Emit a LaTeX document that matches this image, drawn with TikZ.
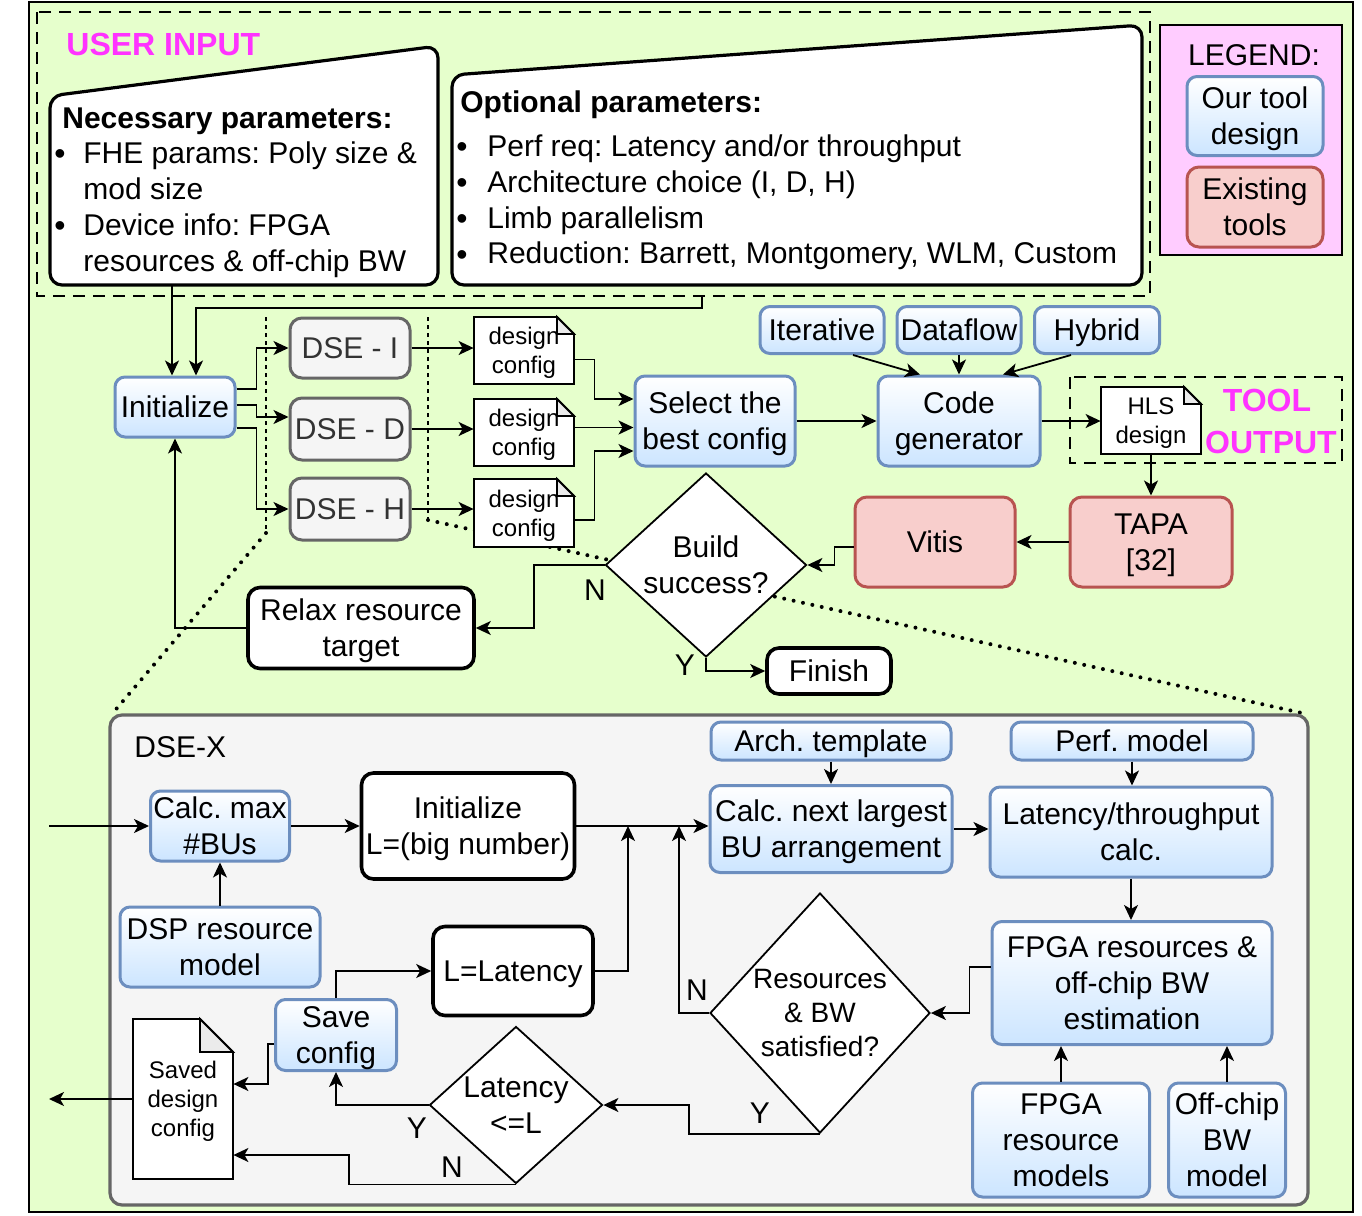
\documentclass[tikz,border=0pt]{standalone}
\usepackage{fontspec}
\setmainfont{Liberation Sans}
\usetikzlibrary{arrows.meta,shapes.geometric}
\frenchspacing

\definecolor{bggreen}{HTML}{E6FFCC}
\definecolor{keypink}{HTML}{FFCCFF}
\definecolor{hilite}{HTML}{FF33FF}
\definecolor{ourline}{HTML}{6C8EBF}
\definecolor{ourfill}{HTML}{CCE5FF}
\definecolor{exline}{HTML}{B85450}
\definecolor{exfill}{HTML}{F8CECC}
\definecolor{dseline}{HTML}{666666}
\definecolor{dsefill}{HTML}{F5F5F5}
\definecolor{dsetext}{HTML}{333333}

\newcommand{\mainsz}{\fontsize{15pt}{18pt}\selectfont}
\newcommand{\docsz}{\fontsize{12pt}{14.5pt}\selectfont}
% folded note: name, x1, y1, x2, y2, fold, text
\newcommand{\docnode}[7]{%
  \filldraw[docline] (#2,#3) -- ({#4-#6},#3) -- (#4,{#3+#6}) -- (#4,#5) -- (#2,#5) -- cycle;
  \filldraw[docline, fill=black!8] ({#4-#6},#3) -- ({#4-#6},{#3+#6}) -- (#4,{#3+#6}) -- cycle;
  \node[doctext, minimum width={(#4-#2)*0.5pt}, minimum height={(#5-#3)*0.5pt}] (#1) at ({(#2+#4)/2},{(#3+#5)/2}) {#7};
}

\begin{document}
\begin{tikzpicture}[x=0.5pt, y=-0.5pt, font=\mainsz,
  every node/.style={align=center, inner sep=0pt, text depth=0pt},
  ours/.style={rounded corners=5pt, draw=ourline, line width=1.5pt, top color=white, bottom color=ourfill},
  exist/.style={rounded corners=6pt, draw=exline, line width=1.5pt, fill=exfill},
  dsebox/.style={rounded corners=6pt, draw=dseline, line width=1.5pt, fill=dsefill, text=dsetext},
  plain/.style={rounded corners=6pt, draw, line width=1.8pt, fill=white},
  decide/.style={diamond, draw, fill=white, line width=0.9pt},
  docline/.style={draw, fill=white, line width=0.9pt},
  doctext/.style={font=\docsz},
  flow/.style={-{Stealth[length=7.5pt, width=7pt, inset=2pt]}, line width=0.9pt},
  hint/.style={font=\bfseries\fontsize{16pt}{19pt}\selectfont, text=hilite},
  group/.style={dash pattern=on 6pt off 4pt, line width=1pt},
  split/.style={dash pattern=on 2pt off 2pt, line width=0.7pt},
  zoomline/.style={line width=2pt, dash pattern=on 0pt off 4.8pt, line cap=round},
  bullet/.style={font=\fontsize{16pt}{18pt}\selectfont},
]
\useasboundingbox (0,0) rectangle (1362,1216);
\draw[fill=bggreen, line width=1pt] (29,2) rectangle (1353,1212);

% user input
\draw[group] (37,12) rectangle (1150,296);
\node[hint, anchor=base west] (userlbl) at (66,55) {USER INPUT};
\draw[fill=white, line width=1.6pt, rounded corners=6pt] (50,285) -- (50,96) -- (438,46) -- (438,285) -- cycle;
\draw[fill=white, line width=1.6pt, rounded corners=6pt] (452,285) -- (452,75) -- (1142,25) -- (1142,285) -- cycle;
\node[anchor=base west, font=\mainsz\bfseries] (nechead) at (62,128) {Necessary parameters:};
\node[bullet] (necdotA) at (60,157) {\textbullet};
\node[anchor=base west] (necA) at (83,163) {FHE params: Poly size \&};
\node[anchor=base west] (necB) at (83,199) {mod size};
\node[bullet] (necdotC) at (60,229) {\textbullet};
\node[anchor=base west] (necC) at (83,235) {Device info: FPGA};
\node[anchor=base west] (necD) at (83,271) {resources \& off-chip BW};
\node[anchor=base west, font=\mainsz\bfseries] (opthead) at (460,112) {Optional parameters:};
\node[bullet] (optdotA) at (462,150) {\textbullet};
\node[anchor=base west] (optA) at (487,156) {Perf req: Latency and/or throughput};
\node[bullet] (optdotB) at (462,186) {\textbullet};
\node[anchor=base west] (optB) at (487,192) {Architecture choice (I, D, H)};
\node[bullet] (optdotC) at (462,222) {\textbullet};
\node[anchor=base west] (optC) at (487,228) {Limb parallelism};
\node[bullet] (optdotD) at (462,258) {\textbullet};
\node[anchor=base west] (optD) at (487,263) {Reduction: Barrett, Montgomery, WLM, Custom};

% legend
\draw[fill=keypink, line width=0.9pt] (1160,25) rectangle (1342,255);
\node (keylbl) at (1254,55) {LEGEND:};
\node[ours, minimum width=68pt, minimum height=39.5pt] (oursKey) at (1255,116) {Our tool\\design};
\node[exist, minimum width=68pt, minimum height=40pt] (existKey) at (1255,207) {Existing\\tools};

% tool output
\draw[group] (1070,377) rectangle (1342,463);
\node[hint] (toollbl) at (1267,400) {TOOL};
\node[hint] (outlbl) at (1271,442) {OUTPUT};

% zoom marks
\draw[split] (266,317) -- (266,533);
\draw[split] (428,317) -- (428,520);
\draw[zoomline] (266,533) -- (112,714);
\draw[zoomline] (428,520) -- (1302,713);

% DSE-X frame
\draw[fill=dsefill, draw=dseline, line width=1.6pt, rounded corners=6pt] (110,715) rectangle (1308,1205);
\node[anchor=base west] (dsexlbl) at (134,757) {DSE-X};

% top flow
\node[ours, minimum width=60pt, minimum height=30pt] (init) at (175,407) {Initialize};
\node[dsebox, minimum width=60pt, minimum height=30pt] (dseI) at (350,348) {DSE - I};
\node[dsebox, minimum width=60pt, minimum height=31pt] (dseD) at (350,429) {DSE - D};
\node[dsebox, minimum width=60pt, minimum height=31pt] (dseH) at (350,509) {DSE - H};
\docnode{cfgI}{474}{317}{574}{384}{17}{design\\config}
\docnode{cfgD}{474}{399}{574}{466}{17}{design\\config}
\docnode{cfgH}{474}{479}{574}{547}{17}{design\\config}
\node[ours, minimum width=80pt, minimum height=45pt] (select) at (715,421) {Select the\\best config};
\node[ours, minimum width=81pt, minimum height=45pt] (codegen) at (959,421) {Code\\generator};
\node[ours, minimum width=62pt, minimum height=23.5pt] (iter) at (822,330) {Iterative};
\node[ours, minimum width=62pt, minimum height=23.5pt] (dflow) at (959,330) {Dataflow};
\node[ours, minimum width=62.5pt, minimum height=23.5pt] (hybrid) at (1097,330) {Hybrid};
\docnode{hls}{1101}{387}{1201}{454}{17}{HLS\\design}
\node[exist, minimum width=81pt, minimum height=45pt] (tapa) at (1151,542) {TAPA\\{[32]}};
\node[exist, minimum width=80pt, minimum height=45pt] (vitis) at (935,542) {Vitis};
\node[decide, minimum width=100.5pt, minimum height=92pt, label={[align=center]center:Build\\success?}] (build) at (706,565) {};
\node[plain, minimum width=113pt, minimum height=40.5pt] (relax) at (361,628) {Relax resource\\target};
\node[plain, minimum width=62pt, minimum height=23pt] (finish) at (829,671) {Finish};
\node (buildno) at (595,590) {N};
\node (buildyes) at (685,665) {Y};

\coordinate (necout) at (172,285);
\coordinate (optout) at (702,296);
\draw[flow] (necout) -- (necout |- init.north);
\draw[flow] (optout) -- ++(0,12) -| ([xshift=10.5pt]init.north);
\draw[flow] ([yshift=9pt]init.east) -- ++(20,0) |- (dseI.west);
\draw[flow] ([yshift=1pt]init.east) -- ++(20,0) |- ([yshift=6pt]dseD.west);
\draw[flow] ([yshift=-10.5pt]init.east) -- ++(20,0) |- (dseH.west);
\draw[flow] (dseI.east) -- (dseI.east -| cfgI.west);
\draw[flow] (dseD.east) -- (dseD.east -| cfgD.west);
\draw[flow] (dseH.east) -- (dseH.east -| cfgH.west);
\draw[flow] ([yshift=-4.5pt]cfgI.east) -- ++(20,0) |- ([yshift=11pt]select.west);
\draw[flow] ([yshift=2.5pt]cfgD.east) -- ([yshift=2.5pt]cfgD.east -| select.west);
\draw[flow] ([yshift=-3.5pt]cfgH.east) -- ++(20,0) |- ([yshift=-15pt]select.west);
\draw[flow] (select) -- (codegen);
\draw[flow] ([xshift=15.5pt]iter.south) -- ([xshift=-19.5pt]codegen.north);
\draw[flow] (dflow) -- (codegen);
\draw[flow] ([xshift=-13pt]hybrid.south) -- ([xshift=22pt]codegen.north);
\draw[flow] (codegen.east) -- (codegen.east -| hls.west);
\draw[flow] (hls.south) -- (hls.south |- tapa.north);
\draw[flow] (tapa) -- (vitis);
\draw[flow] ([yshift=-2.5pt]vitis.west) -- ++(-19,0) |- (build.east);
\draw[flow] (build.west) -- ++(-71,0) |- (relax.east);
\draw[flow] (relax.west) -| (init.south);
\draw[flow] (build.south) |- (finish.west);

% DSE-X flow
\node[ours, minimum width=69.5pt, minimum height=35pt] (calcmax) at (220,826) {Calc. max\\\#BUs};
\node[plain, minimum width=106.5pt, minimum height=53pt] (initL) at (468,826) {Initialize\\L=(big number)};
\node[ours, minimum width=100pt, minimum height=40pt] (dsp) at (220,947) {DSP resource\\model};
\node[plain, minimum width=80pt, minimum height=44.5pt] (llat) at (513,971) {L=Latency};
\node[ours, minimum width=120pt, minimum height=19pt] (archt) at (831,741) {Arch. template};
\node[ours, minimum width=121pt, minimum height=43.5pt] (nextbu) at (831,829) {Calc. next largest\\BU arrangement};
\node[ours, minimum width=121pt, minimum height=19pt] (perf) at (1132,741) {Perf. model};
\node[ours, minimum width=141pt, minimum height=45pt] (latcalc) at (1131,832) {Latency/throughput\\calc.};
\node[ours, minimum width=140pt, minimum height=61.5pt] (fpgaest) at (1132,983) {FPGA resources \&\\off-chip BW\\estimation};
\node[ours, minimum width=88.5pt, minimum height=57pt] (fpgamod) at (1061,1140) {FPGA\\resource\\models};
\node[ours, minimum width=58.5pt, minimum height=57pt] (bwmod) at (1227,1140) {Off-chip\\BW\\model};
\node[decide, minimum width=110pt, minimum height=120pt, label={[align=center, font=\fontsize{14pt}{17pt}\selectfont]center:Resources\\\& BW\\satisfied?}] (resdec) at (820,1013) {};
\node[decide, minimum width=86.5pt, minimum height=78.5pt, label={[align=center]center:Latency\\<=L}] (latdec) at (516,1105) {};
\node[ours, minimum width=60.5pt, minimum height=35.5pt] (savecfg) at (336,1035) {Save\\config};
\docnode{saved}{133}{1019}{233}{1179}{33}{Saved\\design\\config}
\node (resno) at (697,990) {N};
\node (resyes) at (760,1113) {Y};
\node (latyes) at (417,1128) {Y};
\node (latno) at (452,1167) {N};

\coordinate (dsein) at (49,826);
\coordinate (dseout) at (49,1099);
\coordinate (joinL) at (628,826);
\coordinate (joinR) at (679,826);
\draw[flow] (dsein) -- (calcmax);
\draw[flow] (calcmax) -- (initL);
\draw[flow] (dsp) -- (calcmax);
\draw[flow] (initL.east) -- (initL.east -| nextbu.west);
\draw[flow] (llat.east) -| (joinL);
\draw[flow] (resdec.west) -| (joinR);
\draw[flow] (archt) -- (nextbu);
\draw[flow] (perf.south) -- (perf.south |- latcalc.north);
\draw[flow] (nextbu.east) -- (nextbu.east -| latcalc.west);
\draw[flow] (latcalc.south) -- (latcalc.south |- fpgaest.north);
\draw[flow] ([yshift=8pt]fpgaest.west) -- ++(-21,0) |- (resdec.east);
\draw[flow] (fpgamod.north) -- (fpgamod.north |- fpgaest.south);
\draw[flow] (bwmod.north) -- (bwmod.north |- fpgaest.south);
\draw[flow] (resdec.south) -- ++(-131,0) |- (latdec.east);
\draw[flow] (latdec.west) -| (savecfg.south);
\draw[flow] (latdec.south) -- ++(-167,0) |- ([yshift=-28pt]saved.east);
\draw[flow] (savecfg.north) |- (llat.west);
\draw[flow] ([yshift=-4.5pt]savecfg.west) -- ++(-6,0) |- ([yshift=7.5pt]saved.east);
\draw[flow] (saved.west) -- (dseout);
\end{tikzpicture}
\end{document}
